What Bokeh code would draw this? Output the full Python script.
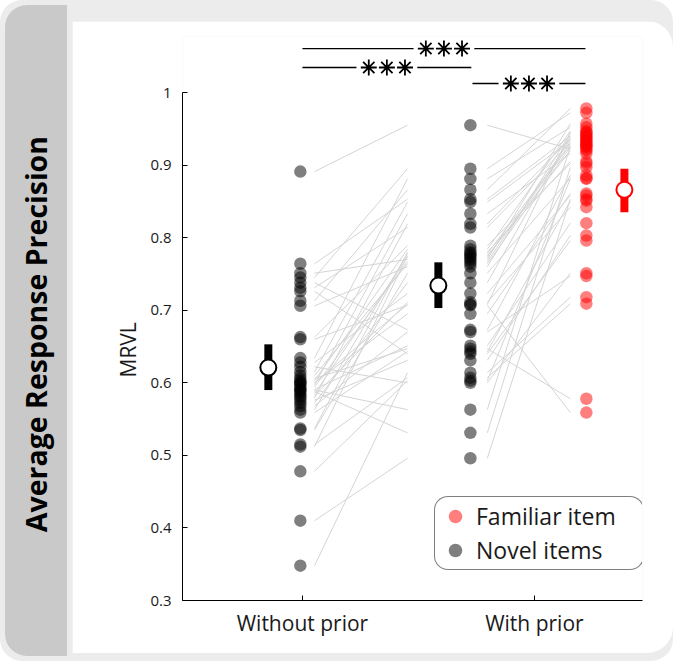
from bokeh.plotting import figure
from bokeh.models import (Range1d, FixedTicker, CustomJSTickFormatter, Legend,
                          LegendItem, Div, Title)
from bokeh.layouts import row
from bokeh.embed import file_html
from bokeh.resources import INLINE

# ---------------- data ----------------
categories = ["Without prior", "With prior"]
panel_title = "Average Response Precision"
y_label = "MRVL"
legend_labels = ["Familiar item", "Novel items"]

# per-subject values (same subject order in every list)
without_prior = [0.891, 0.764, 0.751, 0.745, 0.738, 0.731, 0.726, 0.713, 0.706, 0.663,
                 0.660, 0.634, 0.628, 0.622, 0.615, 0.610, 0.606, 0.603, 0.600, 0.597,
                 0.594, 0.591, 0.588, 0.585, 0.582, 0.579, 0.576, 0.572, 0.568, 0.563,
                 0.559, 0.537, 0.535, 0.515, 0.512, 0.478, 0.410, 0.348, 0.600, 0.590]
with_prior_novel = [0.955, 0.853, 0.770, 0.895, 0.673, 0.814, 0.640, 0.866, 0.760, 0.789,
                    0.707, 0.881, 0.723, 0.600, 0.849, 0.764, 0.647, 0.784, 0.695, 0.833,
                    0.767, 0.651, 0.531, 0.773, 0.711, 0.819, 0.631, 0.738, 0.670, 0.778,
                    0.643, 0.780, 0.751, 0.607, 0.775, 0.603, 0.496, 0.614, 0.708, 0.563]
with_prior_familiar = [0.922, 0.940, 0.957, 0.972, 0.886, 0.931, 0.796, 0.978, 0.944, 0.902,
                       0.559, 0.952, 0.858, 0.751, 0.934, 0.925, 0.578, 0.947, 0.861, 0.916,
                       0.935, 0.820, 0.897, 0.928, 0.842, 0.937, 0.803, 0.940, 0.747, 0.930,
                       0.851, 0.905, 0.882, 0.709, 0.920, 0.881, 0.853, 0.718, 0.945, 0.926]

# group summaries: without prior, with prior (novel), with prior (familiar)
group_mean = [0.621, 0.734, 0.866]
group_sem_low = [0.590, 0.703, 0.835]
group_sem_high = [0.653, 0.766, 0.895]

# significance brackets: from group index to group index, label
sig_pairs = [(0, 2), (0, 1), (1, 2)]
sig_label = "***"

# ---------------- layout constants ----------------
X_POS = [0.991, 1.724, 2.224]          # point columns
X_MEAN = [0.853, 1.586, 2.388]         # mean markers
X_LINE1 = (1.052, 1.453)               # connector lines without -> novel
X_LINE2 = (1.797, 2.155)               # connector lines novel -> familiar
SIG_X_END = [2.220, 1.728, 2.220]
SIG_X_START = [1.0, 1.0, 1.733]
SIG_Y = [1.0606, 1.0345, 1.0124]
STAR_STEP = 0.078
GAP = 0.131

FONT = "Open Sans"
TXT = "#1a1a1a"

p = figure(width=601, height=632, output_backend="svg", toolbar_location=None,
           x_range=Range1d(0.483, 2.466), y_range=Range1d(0.3, 1.0772),
           min_border_left=110, min_border_right=31, min_border_top=15,
           min_border_bottom=53, margin=(21, 0, 0, 0))
p.background_fill_color = "white"
p.border_fill_color = "white"
p.outline_line_color = None
p.grid.visible = False
p.styles = {"border-radius": "0 26px 26px 0", "overflow": "hidden"}

# connector lines
n = len(without_prior)
p.segment(x0=[X_LINE1[0]] * n, y0=without_prior, x1=[X_LINE1[1]] * n, y1=with_prior_novel,
          line_color="#d4d4d4", line_width=1)
p.segment(x0=[X_LINE2[0]] * n, y0=with_prior_novel, x1=[X_LINE2[1]] * n, y1=with_prior_familiar,
          line_color="#d4d4d4", line_width=1)

# points
p.scatter(x=[X_POS[0]] * n, y=without_prior, size=12.5, fill_color="black",
          fill_alpha=0.5, line_color=None)
r_novel = p.scatter(x=[X_POS[1]] * n, y=with_prior_novel, size=12.5, fill_color="black",
                    fill_alpha=0.5, line_color=None)
r_fam = p.scatter(x=[X_POS[2]] * n, y=with_prior_familiar, size=12.5, fill_color="red",
                  fill_alpha=0.5, line_color=None)

# means with error bars
mean_colors = ["black", "black", "red"]
p.segment(x0=X_MEAN, y0=group_sem_low, x1=X_MEAN, y1=group_sem_high,
          line_color=mean_colors, line_width=8, line_cap="butt")
p.scatter(x=X_MEAN, y=group_mean, size=16, fill_color="white",
          line_color=mean_colors, line_width=2)

# significance brackets
for k, (a, b) in enumerate(sig_pairs):
    xa = SIG_X_START[k]
    xb = SIG_X_END[k]
    c = (xa + xb) / 2
    y = SIG_Y[k]
    p.segment(x0=[xa, c + GAP], y0=[y, y], x1=[c - GAP, xb], y1=[y, y],
              line_color="black", line_width=1.3)
    m = len(sig_label)
    xs = [c + (i - (m - 1) / 2) * STAR_STEP for i in range(m)]
    p.scatter(x=xs, y=[y] * m, marker="asterisk", size=16, line_color="black",
              line_width=1.8)

# axes
p.yaxis.ticker = FixedTicker(ticks=[0.3, 0.4, 0.5, 0.6, 0.7, 0.8, 0.9, 1.0])
p.yaxis.formatter = CustomJSTickFormatter(
    code="return Math.abs(tick - 1) < 1e-9 ? '1' : tick.toFixed(1);")
p.yaxis.bounds = (0.3, 1.0)
p.xaxis.ticker = FixedTicker(ticks=[1, 2])
p.xaxis.major_label_overrides = {1: categories[0], 2: categories[1]}
for ax in (p.xaxis[0], p.yaxis[0]):
    ax.axis_line_color = "black"
    ax.axis_line_width = 1
    ax.major_tick_in = 5
    ax.major_tick_out = 0
    ax.major_tick_line_color = "black"
    ax.minor_tick_line_color = None
    ax.major_label_text_font = FONT
    ax.major_label_text_color = TXT
p.yaxis[0].major_label_text_font_size = "15px"
p.yaxis[0].major_label_standoff = 11
p.xaxis[0].major_label_text_font_size = "21px"
p.xaxis[0].major_label_standoff = 8

# y-axis title, placed a little below the axis middle as in the reference
p.add_layout(Title(text=y_label, align="left", offset=223, text_font=FONT,
                   text_font_size="21px", text_font_style="normal",
                   text_color=TXT, standoff=12), "left")

# legend
legend = Legend(items=[LegendItem(label=legend_labels[0], renderers=[r_fam]),
                       LegendItem(label=legend_labels[1], renderers=[r_novel])],
                location=(252, 30), border_line_color="black", border_line_width=1.2,
                background_fill_color="white", background_fill_alpha=1,
                label_text_font=FONT, label_text_font_size="23px", label_text_color=TXT,
                glyph_width=36, glyph_height=34, spacing=0, padding=2, margin=0,
                label_standoff=3, label_width=165)
try:
    legend.border_radius = 14
except Exception:
    pass
p.add_layout(legend, "center")

# left band with the panel title
band = Div(text=(
    '<div style="width:62px;height:651px;display:flex;align-items:center;'
    'justify-content:center;padding-top:8px;box-sizing:border-box;">'
    '<span style="writing-mode:vertical-rl;transform:rotate(180deg);'
    "font-family:'Open Sans';font-weight:bold;font-size:28.5px;color:#000;"
    'white-space:nowrap;">' + panel_title + '</span></div>'),
    width=62, height=651,
    styles={"background-color": "#c9c9c9", "border-radius": "22px 0 0 22px"})

layout = row(band, p, spacing=0)
layout.styles = {"background-color": "#ececec", "border-radius": "22px"}

open("out.html", "w").write(file_html(layout, INLINE))
